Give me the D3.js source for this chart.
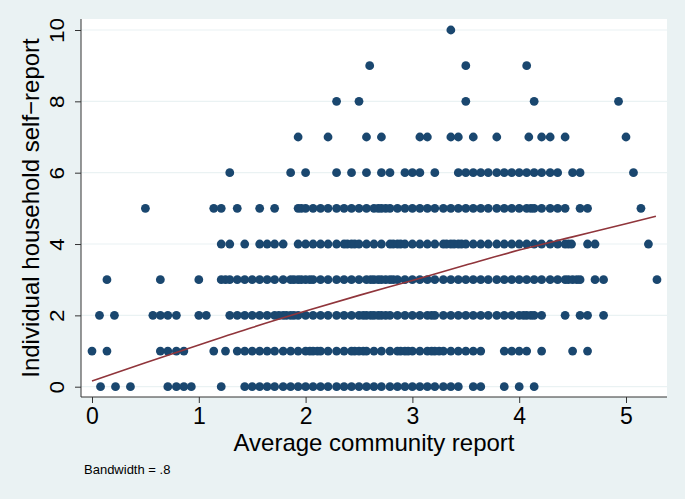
<!DOCTYPE html>
<html>
<head>
<meta charset="utf-8">
<title>Lowess: individual vs community report</title>
<script src="https://cdn.jsdelivr.net/npm/d3@7"></script>
<style>
  body { margin: 0; background: #eaf2f3; }
  svg { display: block; font-family: "Liberation Sans", Arial, Helvetica, sans-serif; }
</style>
</head>
<body>
<div id="chart"></div>
<script>
// x values (average community report) of the households at each self-report level
const row0 = [0.08, 0.22, 0.36, 0.71, 0.79, 0.86, 0.93, 1.21, 1.43, 1.50, 1.57, 1.64, 1.71, 1.79, 1.86, 1.93, 2.00, 2.07, 2.14, 2.21, 2.29, 2.36, 2.43, 2.50, 2.57, 2.64, 2.71, 2.79, 2.86, 2.93, 3.00, 3.07, 3.14, 3.21, 3.29, 3.36, 3.43, 3.57, 3.64, 3.86, 4.00, 4.14];
const row1 = [0.00, 0.14, 0.64, 0.71, 0.79, 0.86, 1.14, 1.25, 1.36, 1.43, 1.50, 1.57, 1.64, 1.71, 1.79, 1.86, 1.93, 2.00, 2.04, 2.07, 2.11, 2.14, 2.21, 2.29, 2.36, 2.43, 2.46, 2.50, 2.54, 2.57, 2.64, 2.71, 2.79, 2.86, 2.89, 2.93, 2.96, 3.00, 3.07, 3.14, 3.18, 3.21, 3.25, 3.29, 3.36, 3.43, 3.50, 3.57, 3.64, 3.86, 3.93, 4.00, 4.07, 4.21, 4.50, 4.64];
const row2 = [0.07, 0.21, 0.57, 0.64, 0.71, 0.79, 1.00, 1.07, 1.29, 1.36, 1.43, 1.50, 1.57, 1.64, 1.71, 1.75, 1.79, 1.82, 1.86, 1.89, 1.93, 2.00, 2.07, 2.14, 2.21, 2.29, 2.36, 2.43, 2.50, 2.54, 2.57, 2.61, 2.64, 2.68, 2.71, 2.75, 2.79, 2.86, 2.93, 3.00, 3.07, 3.14, 3.18, 3.21, 3.29, 3.36, 3.43, 3.50, 3.57, 3.64, 3.71, 3.79, 3.86, 3.93, 4.00, 4.04, 4.07, 4.11, 4.14, 4.21, 4.43, 4.57, 4.64, 4.79];
const row3 = [0.14, 0.64, 1.00, 1.21, 1.25, 1.29, 1.36, 1.43, 1.50, 1.57, 1.64, 1.71, 1.79, 1.86, 1.89, 1.93, 1.96, 2.00, 2.04, 2.07, 2.14, 2.21, 2.29, 2.36, 2.43, 2.50, 2.57, 2.61, 2.64, 2.68, 2.71, 2.75, 2.79, 2.82, 2.86, 2.93, 3.00, 3.07, 3.14, 3.21, 3.29, 3.36, 3.43, 3.50, 3.57, 3.64, 3.71, 3.79, 3.86, 3.93, 4.00, 4.07, 4.14, 4.21, 4.29, 4.36, 4.43, 4.46, 4.50, 4.54, 4.57, 4.71, 4.79, 5.29];
const row4 = [1.21, 1.29, 1.43, 1.57, 1.64, 1.71, 1.79, 1.93, 2.00, 2.07, 2.14, 2.21, 2.29, 2.36, 2.39, 2.43, 2.46, 2.50, 2.57, 2.64, 2.71, 2.79, 2.82, 2.86, 2.89, 2.93, 3.00, 3.07, 3.14, 3.21, 3.29, 3.32, 3.36, 3.39, 3.43, 3.46, 3.50, 3.57, 3.64, 3.71, 3.79, 3.86, 3.93, 4.00, 4.07, 4.14, 4.21, 4.29, 4.36, 4.43, 4.46, 4.49, 4.64, 4.71, 5.21];
const row5 = [0.50, 1.14, 1.21, 1.36, 1.57, 1.71, 1.93, 1.96, 2.00, 2.07, 2.14, 2.21, 2.29, 2.36, 2.43, 2.50, 2.57, 2.64, 2.68, 2.71, 2.75, 2.79, 2.86, 2.93, 3.00, 3.07, 3.14, 3.21, 3.29, 3.36, 3.43, 3.50, 3.57, 3.64, 3.71, 3.79, 3.86, 3.93, 4.00, 4.07, 4.11, 4.14, 4.21, 4.29, 4.36, 4.43, 4.57, 4.64, 5.14];
const row6 = [1.29, 1.86, 2.00, 2.29, 2.43, 2.57, 2.71, 2.79, 2.93, 3.00, 3.07, 3.21, 3.43, 3.50, 3.57, 3.64, 3.71, 3.79, 3.86, 3.93, 4.00, 4.07, 4.14, 4.21, 4.29, 4.36, 4.50, 4.57, 5.07];
const row7 = [1.93, 2.21, 2.57, 2.71, 3.07, 3.14, 3.36, 3.43, 3.57, 3.79, 4.09, 4.21, 4.29, 4.43, 5.00];
const row8 = [2.29, 2.50, 3.50, 4.14, 4.93];
const row9 = [2.60, 3.50, 4.07];
const row10 = [3.36];
const rows = [row0, row1, row2, row3, row4, row5, row6, row7, row8, row9, row10];

// lowess smoother (bandwidth .8)
const fitX = [0, 0.5, 1, 1.5, 2, 2.5, 3, 3.5, 4, 4.5, 5, 5.28];
const fitY = [0.16, 0.67, 1.17, 1.66, 2.12, 2.56, 2.98, 3.41, 3.83, 4.2, 4.57, 4.78];

const xTicks = [0, 1, 2, 3, 4, 5];
const yTicks = [0, 2, 4, 6, 8, 10];

const width = 685, height = 499;
const plot = { left: 81, right: 667, top: 19, bottom: 397 };

const svg = d3.select("#chart").append("svg")
    .attr("width", width)
    .attr("height", height);

svg.append("rect")
    .attr("width", width)
    .attr("height", height)
    .attr("fill", "#eaf2f3");

svg.append("rect")
    .attr("x", plot.left)
    .attr("y", plot.top)
    .attr("width", plot.right - plot.left)
    .attr("height", plot.bottom - plot.top)
    .attr("fill", "#ffffff");

const x = d3.scaleLinear().domain([0, 5]).range([92, 626]);
const y = d3.scaleLinear().domain([0, 10]).range([386.7, 30]);

// grid lines
svg.append("g")
    .selectAll("line")
    .data(yTicks)
    .join("line")
    .attr("x1", plot.left)
    .attr("x2", plot.right)
    .attr("y1", d => y(d))
    .attr("y2", d => y(d))
    .attr("stroke", "#eaf2f3")
    .attr("stroke-width", 1.2);

// points
const points = [];
rows.forEach((xs, level) => xs.forEach(v => points.push({ x: v, y: level })));

svg.append("g")
    .selectAll("circle")
    .data(points)
    .join("circle")
    .attr("cx", d => x(d.x))
    .attr("cy", d => y(d.y))
    .attr("r", 4.4)
    .attr("fill", "#1a476f");

// lowess line
const fit = fitX.map((v, i) => [v, fitY[i]]);
svg.append("path")
    .datum(fit)
    .attr("fill", "none")
    .attr("stroke", "#90353b")
    .attr("stroke-width", 1.6)
    .attr("d", d3.line().x(d => x(d[0])).y(d => y(d[1])).curve(d3.curveMonotoneX));

// axes
const xAxis = svg.append("g")
    .attr("transform", `translate(0,${plot.bottom})`)
    .call(d3.axisBottom(x).tickValues(xTicks).tickSize(6).tickPadding(5).tickFormat(d3.format("d")));
xAxis.select(".domain").attr("d", `M${plot.left},0H${plot.right}`).attr("stroke", "#333");
xAxis.selectAll(".tick line").attr("stroke", "#333");
xAxis.selectAll(".tick text")
    .attr("font-size", 23)
    .attr("font-family", "Liberation Sans, Arial, sans-serif")
    .attr("fill", "#000");

const yAxis = svg.append("g")
    .attr("transform", `translate(${plot.left},0)`)
    .call(d3.axisLeft(y).tickValues(yTicks).tickSize(6).tickFormat(d3.format("d")));
yAxis.select(".domain").attr("d", `M0,${plot.top}V${plot.bottom}`).attr("stroke", "#333");
yAxis.selectAll(".tick line").attr("stroke", "#333");
yAxis.selectAll(".tick text")
    .attr("font-size", 22.5)
    .attr("font-family", "Liberation Sans, Arial, sans-serif")
    .attr("fill", "#000")
    .attr("x", null)
    .attr("dy", null)
    .attr("text-anchor", "middle")
    .attr("transform", "translate(-17,0) rotate(-90) scale(1,0.87)");

// titles
svg.append("text")
    .attr("x", 374)
    .attr("y", 451)
    .attr("text-anchor", "middle")
    .attr("font-size", 24)
    .text("Average community report");

svg.append("text")
    .attr("transform", `translate(39,${(plot.top + plot.bottom) / 2}) rotate(-90)`)
    .attr("text-anchor", "middle")
    .attr("font-size", 24)
    .text("Individual household self\u2212report");

svg.append("text")
    .attr("x", 84)
    .attr("y", 474)
    .attr("font-size", 13)
    .text("Bandwidth = .8");
</script>
</body>
</html>
